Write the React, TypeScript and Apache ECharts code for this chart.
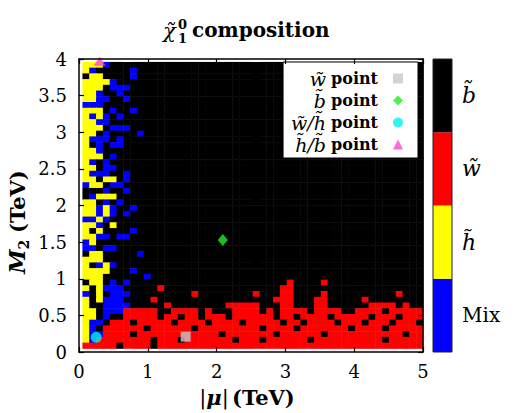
import React, { useEffect, useRef } from "react";
import * as echarts from "echarts";

// ---- axis ranges and ticks ----
const X_MIN = 0;
const X_MAX = 5;
const X_STEP = 1;
const Y_MIN = 0;
const Y_MAX = 4;
const Y_STEP = 0.5;

// ---- scan grid extents (TeV) ----
const CELL_X0 = 0.05;
const CELL_X1 = 5.0;
const CELL_Y0 = 0.05;
const CELL_Y1 = 3.96;
const NX = 50;

// ---- composition classes (colour bar order, bottom -> top) ----
const compositionNames = ["Mix", "h\u0303", "w\u0303", "b\u0303"];
const compositionColors = ["#0000ff", "#ffff00", "#ff0000", "#000000"];
// cell code -> class index: B = Mix, Y = higgsino, R = wino, K = bino
const CODE_INDEX: Record<string, number> = { B: 0, Y: 1, R: 2, K: 3 };

// ---- scan grid, one string per row from top (M2 ~ 4 TeV) to bottom (M2 ~ 0) ----
// columns run in |mu| from 0.05 to 5 TeV; rows shorter than 50 are bino (K) after the end
const gridRows = [
  "YYYB",
  "YBKKKKKB",
  "KYYKKKKB",
  "YYYYB",
  "YYYKBBB",
  "YYBKKB",
  "YYBBKKB",
  "BBBK",
  "YYYKBKKB",
  "YBYBKB",
  "YYBB",
  "YYYKBBB",
  "YYKBKKKKB",
  "YBBBKB",
  "YKBKBB",
  "YYB",
  "YYYKB",
  "YBKB",
  "YYKBB",
  "YBBBKKB",
  "YYKYYKB",
  "BYYKBB",
  "KKKBKKB",
  "KBYYY",
  "YYKBKB",
  "YYBYBKKB",
  "YYBYBKB",
  "BBYB",
  "YYBKY",
  "YKYKKKKB",
  "YYBBKBB",
  "BYK",
  "BBKBB",
  "KYYKKKKKB",
  "YYY",
  "YKBYB",
  "YYYYKKKB",
  "YYYKKKKKKB",
  "KYYKBKBKKK KKKKKKKKKK KKKKKKKKKK RKKKKRKKKK KKKKKKKKKK",
  "YKYBBBKKKK KRKKKKKKKK KKKKKKKKKR RKKKKKKKKK KKKKKKKKKK",
  "BKYKBBBKKK KKKKKKRKKK KKKKKRKKKR RKKKKRKKKK KKKKKKRKKK",
  "YKYBBBKKKK RKKKKKKKKK KKKKKKKKRR RKKKRRKKKK KRKKKKKKKK",
  "YKKBBBBKKK KKRKKKKKKK KRRRRRKKKR RKKKRRKKKK KKRRRRKRKK",
  "YYKBBBRRRR RKKRRRRKRK KKRRRRKRKR RRRKRRRRKK RRRRKRRRRR",
  "YYKBKKRRRR RKRRKRRKRR RKRRRRRRKR RKRRRRKRRR RRKRRRKRRR",
  "YBBKRRRKRR RRRKRRRRKR RRRKRRRRRK RRKRRRRKRR RKRRRKRRRK",
  "YBKRRRRRRK RRRRRRKRRR RRRRRRKRRR RKRRRRRRRK RRRRKRRRRR",
  "YBBRRRRKRR RRRRRRRRRR KRRRRRRRKR RRRRRKRRRR RRRRRRRKRR",
  "YBRRRRRRRR KRRRKRRRRR RRKRRRKRRR RRRKRRRRRR RRRRKRRRRR",
  "RRRRRKRRRR KRRRRRRRRR RRRRRRRRRR RRRRRRRRRR RRRRRRRRRR",
];

// ---- benchmark points [|mu|, M2] in TeV ----
const winoPoint = [1.55, 0.21];
const binoPoint = [2.09, 1.53];
const winoHiggsinoPoint = [0.25, 0.2];
const higgsinoBinoPoint = [0.3, 3.97];

const legendLabels: Record<string, string> = {
  wino: "{i|w\u0303} {p|point}",
  bino: "{i|b\u0303} {p|point}",
  winoHiggsino: "{i|w\u0303/h\u0303} {p|point}",
  higgsinoBino: "{i|h\u0303/b\u0303} {p|point}",
};

const NY = gridRows.length;
const DX = (CELL_X1 - CELL_X0) / NX;
const DY = (CELL_Y1 - CELL_Y0) / NY;

function buildCells() {
  const cells: number[][] = [];
  gridRows.forEach((row, r) => {
    const s = row.replace(/ /g, "").padEnd(NX, "K");
    for (let j = 0; j < NX; j++) {
      cells.push([CELL_X0 + (j + 0.5) * DX, CELL_Y1 - (r + 0.5) * DY, CODE_INDEX[s[j]]]);
    }
  });
  return cells;
}

const FONT = "DejaVu Serif";

export default function App() {
  const ref = useRef<HTMLDivElement>(null);

  useEffect(() => {
    document.body.style.margin = "0";
    if (!ref.current) return;
    const chart = echarts.init(ref.current, undefined, { renderer: "svg" });
    const cells = buildCells();

    const frameLine = { show: true, onZero: false, lineStyle: { color: "#000", width: 1.5 } };
    const innerTick = { show: true, inside: true, length: 5, lineStyle: { color: "#000", width: 1.2 } };

    const option: any = {
      animation: false,
      textStyle: { fontFamily: FONT },
      grid: [
        { left: 79, top: 59, width: 344, height: 293 },
        { left: 433, top: 59, width: 19, height: 293 },
      ],
      xAxis: [
        {
          gridIndex: 0, type: "value", min: X_MIN, max: X_MAX, interval: X_STEP, position: "bottom", z: 10,
          axisLine: frameLine, axisTick: innerTick, splitLine: { show: false },
          axisLabel: { color: "#000", fontSize: 18, fontFamily: FONT, margin: 10 },
        },
        {
          gridIndex: 0, type: "value", min: X_MIN, max: X_MAX, interval: X_STEP, position: "top", z: 10,
          axisLine: frameLine, axisTick: innerTick, splitLine: { show: false }, axisLabel: { show: false },
        },
        { gridIndex: 1, type: "value", min: 0, max: 1, show: false },
      ],
      yAxis: [
        {
          gridIndex: 0, type: "value", min: Y_MIN, max: Y_MAX, interval: Y_STEP, position: "left", z: 10,
          axisLine: frameLine, axisTick: innerTick, splitLine: { show: false },
          axisLabel: { color: "#000", fontSize: 18, fontFamily: FONT, margin: 12 },
        },
        {
          gridIndex: 0, type: "value", min: Y_MIN, max: Y_MAX, interval: Y_STEP, position: "right", z: 10,
          axisLine: frameLine, axisTick: innerTick, splitLine: { show: false }, axisLabel: { show: false },
        },
        {
          gridIndex: 1, type: "category", data: compositionNames, position: "right",
          axisLine: { show: false }, axisTick: { show: false }, splitLine: { show: false },
          axisLabel: {
            margin: 10,
            formatter: (v: string) => (v === "Mix" ? "{r|Mix}" : "{i|" + v + "}"),
            rich: {
              r: { fontFamily: FONT, fontSize: 20, color: "#000" },
              i: { fontFamily: FONT, fontStyle: "italic", fontSize: 22, color: "#000" },
            },
          },
        },
      ],
      legend: {
        orient: "vertical", right: 114, top: 62, align: "right", selectedMode: false,
        backgroundColor: "#fff", borderColor: "#000", borderWidth: 1, borderRadius: 0,
        padding: [7, 15, 4, 8], itemGap: 3, itemWidth: 10, itemHeight: 10,
        data: [
          { name: "wino", icon: "rect" },
          { name: "bino", icon: "diamond" },
          { name: "winoHiggsino", icon: "circle" },
          { name: "higgsinoBino", icon: "triangle" },
        ],
        formatter: (name: string) => legendLabels[name],
        textStyle: {
          color: "#000", fontSize: 16, lineHeight: 18, fontFamily: FONT,
          rich: {
            i: { fontFamily: FONT, fontStyle: "italic", fontSize: 19, lineHeight: 18, color: "#000" },
            p: { fontFamily: FONT, fontWeight: "bold", fontSize: 16, lineHeight: 18, color: "#000", padding: [0, 10, 0, 0] },
          },
        },
      },
      series: [
        {
          type: "custom", xAxisIndex: 0, yAxisIndex: 0, data: cells, z: 2,
          encode: { x: 0, y: 1 },
          renderItem: (_params: any, api: any) => {
            const x = api.value(0);
            const y = api.value(1);
            const c = api.value(2);
            const p0 = api.coord([x - DX / 2, y + DY / 2]);
            const p1 = api.coord([x + DX / 2, y - DY / 2]);
            return {
              type: "rect",
              shape: { x: p0[0], y: p0[1], width: p1[0] - p0[0] + 0.5, height: p1[1] - p0[1] + 0.5 },
              style: { fill: compositionColors[c] },
            };
          },
        },
        {
          name: "wino", type: "scatter", xAxisIndex: 0, yAxisIndex: 0, z: 5, clip: false,
          symbol: "rect", symbolSize: 10, itemStyle: { color: "#c8c8c8" }, data: [winoPoint],
        },
        {
          name: "bino", type: "scatter", xAxisIndex: 0, yAxisIndex: 0, z: 5, clip: false,
          symbol: "diamond", symbolSize: [10, 12], itemStyle: { color: "#22ee22" }, data: [binoPoint],
        },
        {
          name: "winoHiggsino", type: "scatter", xAxisIndex: 0, yAxisIndex: 0, z: 5, clip: false,
          symbol: "circle", symbolSize: 11, itemStyle: { color: "#00f0f0" }, data: [winoHiggsinoPoint],
        },
        {
          name: "higgsinoBino", type: "scatter", xAxisIndex: 0, yAxisIndex: 0, z: 5, clip: false,
          symbol: "triangle", symbolSize: [12, 9], itemStyle: { color: "#ff44cc" }, data: [higgsinoBinoPoint],
        },
        {
          type: "bar", xAxisIndex: 2, yAxisIndex: 2, barWidth: "100%", z: 2,
          data: compositionNames.map((_, i) => ({ value: 1, itemStyle: { color: compositionColors[i] } })),
        },
      ],
      graphic: [
        { type: "rect", z: 100, shape: { x: 433, y: 59, width: 19, height: 293 }, style: { fill: "none", stroke: "#222", lineWidth: 1 } },
        { type: "text", x: 163, y: 31, style: { text: "\u03c7\u0303", font: `italic 21px '${FONT}'`, fill: "#000", verticalAlign: "middle" } },
        { type: "text", x: 178, y: 24, style: { text: "0", font: `bold 13px '${FONT}'`, fill: "#000", verticalAlign: "middle" } },
        { type: "text", x: 178, y: 38, style: { text: "1", font: `bold 13px '${FONT}'`, fill: "#000", verticalAlign: "middle" } },
        { type: "text", x: 192, y: 30, style: { text: "composition", font: `bold 20px '${FONT}'`, fill: "#000", verticalAlign: "middle" } },
        {
          type: "text", x: 247, y: 397,
          style: {
            text: "{n||}{m|\u03bc}{n||} {b|(TeV)}", align: "center", verticalAlign: "middle",
            rich: {
              n: { fontFamily: FONT, fontSize: 21, fill: "#000" },
              m: { fontFamily: FONT, fontStyle: "italic", fontWeight: "bold", fontSize: 21, fill: "#000" },
              b: { fontFamily: FONT, fontWeight: "bold", fontSize: 21, fill: "#000" },
            },
          },
        },
        {
          type: "text", x: 17, y: 222, rotation: Math.PI / 2,
          style: {
            text: "{m|M}{s|2}  {b|(TeV)}", align: "center", verticalAlign: "middle",
            rich: {
              m: { fontFamily: FONT, fontStyle: "italic", fontWeight: "bold", fontSize: 22, lineHeight: 28, verticalAlign: "middle", fill: "#000" },
              s: { fontFamily: FONT, fontWeight: "bold", fontSize: 14, lineHeight: 28, verticalAlign: "bottom", fill: "#000" },
              b: { fontFamily: FONT, fontWeight: "bold", fontSize: 21, lineHeight: 28, verticalAlign: "middle", fill: "#000" },
            },
          },
        },
      ],
    };

    chart.setOption(option);
    return () => chart.dispose();
  }, []);

  return <div ref={ref} style={{ position: "absolute", left: 0, top: 0, width: 532, height: 413 }} />;
}
